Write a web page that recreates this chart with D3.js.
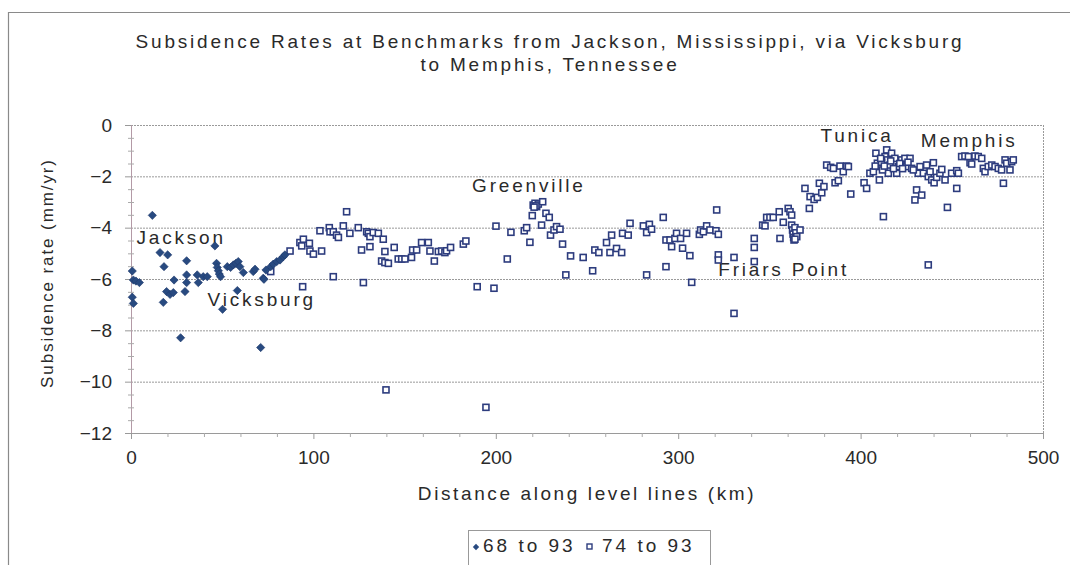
<!DOCTYPE html>
<html><head><meta charset="utf-8">
<script src="https://cdn.jsdelivr.net/npm/d3@7"></script>
<style>html,body{margin:0;padding:0;background:#fff;}svg{display:block;font-family:Arial,"Liberation Sans",sans-serif;}</style>
</head><body><svg id="c" width="1070" height="565"></svg>
<script>
const titleLines = ["Subsidence Rates at Benchmarks from Jackson, Mississippi, via Vicksburg", "to Memphis, Tennessee"];
const xLabel = "Distance along level lines (km)";
const yLabel = "Subsidence rate (mm/yr)";
const xTicks = [0, 100, 200, 300, 400, 500];
const yTicks = [0, -2, -4, -6, -8, -10, -12];
const seriesNames = ["68 to 93", "74 to 93"];
const placeNames = ["Jackson", "Vicksburg", "Greenville", "Friars Point", "Tunica", "Memphis"];
const placeX = [3, 42, 187, 322, 378, 433];
const placeY = [-4.65, -7.05, -2.6, -5.9, -0.65, -0.85];

// series 1: 68 to 93 (km, mm/yr)
const s1x = [0.7,1.3,0.7,1.3,2.7,4.6,11.7,15.9,20.1,18.1,17.7,19.5,21.4,23.2,23.6,27.2,29.6,30.5,30.5,30.5,36.3,36.9,39.6,41.8,46.0,46.9,47.3,47.9,48.4,49.1,50.2,52.8,54.6,56.1,57.5,58.8,59.7,58.3,61.6,67.0,68.0,71.1,72.5,74.0,72.9,76.6,78.0,79.9,81.7,83.5,84.4];
const s1y = [-5.69,-6.04,-6.71,-6.95,-6.08,-6.14,-3.52,-4.97,-5.06,-5.52,-6.91,-6.49,-6.60,-6.53,-6.04,-8.29,-6.49,-5.29,-5.84,-6.14,-5.84,-6.14,-5.91,-5.91,-4.71,-5.39,-5.55,-5.68,-5.81,-5.91,-7.18,-5.52,-5.55,-5.45,-5.39,-5.32,-5.52,-6.45,-5.75,-5.71,-5.62,-8.67,-5.97,-5.65,-6.01,-5.52,-5.42,-5.32,-5.26,-5.13,-5.06];

// series 2: 74 to 93 (km, mm/yr)
const s2x = [76.6,87.2,92.6,93.6,94.5,97.8,98.1,100.0,104.5,103.6,108.7,109.1,110.9,112.7,113.7,116.4,118.2,120.0,124.6,126.4,129.2,130.1,131.0,131.0,132.8,135.6,138.3,139.2,137.4,139.2,141.1,144.3,146.5,148.4,150.2,153.8,154.4,156.6,159.3,163.0,163.9,166.3,168.5,110.9,127.4,94.1,
170.3,172.1,173.0,175.2,182.2,183.6,189.8,199.0,200.1,206.3,208.3,215.6,216.9,218.7,220.0,220.5,221.5,222.4,223.3,225.7,222.0,221.0,227.5,229.3,225.1,230.0,231.9,233.3,235.2,236.6,241.0,238.4,247.9,253.1,254.3,256.5,260.7,263.5,262.6,266.2,
269.0,269.5,272.6,273.6,280.9,282.7,284.2,285.4,282.7,291.8,293.3,293.3,295.5,296.4,298.2,299.1,301.3,302.4,304.6,306.4,307.4,311.6,312.3,313.8,315.6,317.4,320.7,321.1,322.0,322.0,322.0,330.6,330.6,341.7,341.7,341.7,346.3,347.6,348.5,350.3,352.1,355.4,355.8,357.6,360.3,361.3,362.2,362.2,362.7,363.0,363.3,363.5,364.0,364.5,365.0,364.0,366.8,
369.5,371.9,372.3,374.5,376.3,377.4,378.7,379.9,381.4,383.6,385.1,386.0,387.8,388.7,390.5,392.4,393.3,394.6,401.9,403.3,405.1,407.0,408.4,409.2,410.3,410.6,412.5,413.4,414.3,414.7,415.2,416.1,417.0,418.8,419.8,420.7,422.5,424.3,425.2,427.1,428.0,429.8,430.7,431.6,
411.5,412.0,413.0,416.5,418.0,421.5,423.0,426.0,408.0,411.0,
428.9,433.5,432.6,434.4,436.2,437.1,438.1,439.9,439.0,440.3,441.7,443.5,444.5,446.3,447.6,449.9,452.7,453.6,452.7,455.4,457.2,459.1,460.0,460.9,462.7,464.5,466.4,467.3,468.2,470.0,471.9,473.7,475.5,477.3,478.3,479.2,480.1,481.9,482.8,483.7,437.1,
139.8,194.6];
const s2y = [-5.71,-4.91,-4.58,-4.71,-4.45,-4.61,-4.91,-5.03,-4.91,-4.12,-4.00,-4.16,-4.16,-4.29,-4.38,-3.93,-3.38,-4.22,-4.00,-4.87,-4.16,-4.22,-4.35,-4.74,-4.19,-4.22,-4.45,-4.93,-5.30,-5.36,-5.39,-4.77,-5.22,-5.22,-5.22,-5.16,-4.87,-4.87,-4.58,-4.58,-4.91,-5.30,-4.93,-5.91,-6.14,-6.30,
-4.91,-4.97,-4.90,-4.77,-4.64,-4.52,-6.30,-6.36,-3.94,-5.22,-4.18,-4.12,-4.00,-4.57,-3.53,-3.12,-3.05,-3.18,-3.08,-2.99,-3.15,-3.20,-3.44,-3.60,-3.90,-4.29,-4.09,-3.96,-4.06,-4.64,-5.10,-5.84,-5.16,-5.68,-4.87,-4.97,-4.58,-4.29,-4.97,-4.81,
-4.97,-4.22,-4.29,-3.83,-3.93,-4.19,-3.87,-4.06,-5.84,-3.60,-4.48,-5.52,-4.48,-4.74,-4.42,-4.22,-4.42,-4.80,-4.22,-5.09,-6.13,-4.26,-4.09,-4.16,-3.93,-4.09,-4.12,-3.31,-4.26,-5.06,-5.26,-5.16,-7.34,-4.42,-4.77,-5.32,-3.90,-3.93,-3.60,-3.60,-3.60,-3.38,-4.42,-3.79,-3.25,-3.38,-3.51,-3.90,-4.09,-4.25,-4.38,-4.48,-4.00,-4.20,-4.35,-4.45,-4.09,
-2.47,-3.25,-2.79,-2.90,-2.82,-2.27,-2.64,-2.40,-1.56,-1.65,-1.69,-2.25,-2.17,-1.60,-1.82,-1.60,-1.62,-2.69,-2.25,-2.47,-1.88,-1.82,-1.10,-1.49,-2.14,-1.62,-3.57,-1.23,-0.97,-1.36,-1.88,-1.56,-1.10,-1.30,-1.88,-1.62,-1.36,-1.30,-1.62,-1.30,-1.69,-2.92,-2.53,-1.88,
-1.45,-1.75,-1.60,-1.40,-1.70,-1.50,-1.70,-1.45,-1.60,-1.30,
-1.75,-2.73,-1.62,-1.88,-1.56,-2.01,-1.82,-1.47,-2.14,-2.25,-2.04,-1.88,-1.73,-2.14,-3.21,-1.88,-1.78,-1.88,-2.47,-1.23,-1.21,-1.23,-1.47,-1.52,-1.21,-1.23,-1.30,-1.69,-1.82,-1.62,-1.56,-1.62,-1.69,-1.75,-2.27,-1.36,-1.49,-1.75,-1.43,-1.36,-5.45,
-10.32,-11.00];

const svg = d3.select("#c");
const textCol = "#2a2a2a";
const gridCol = "#9a9a9a";
const x = d3.scaleLinear().domain([0, 500]).range([131, 1043]);
const y = d3.scaleLinear().domain([-12, 0]).range([433, 125]);

// outer frame
svg.append("line").attr("x1", 8).attr("x2", 1070).attr("y1", 12.5).attr("y2", 12.5).attr("stroke", "#8a8a8a").attr("stroke-width", 1.2);
svg.append("line").attr("x1", 8.5).attr("x2", 8.5).attr("y1", 12).attr("y2", 565).attr("stroke", "#8a8a8a").attr("stroke-width", 1.2);

// title
svg.append("g").selectAll("text").data(titleLines).join("text")
  .attr("x", 550).attr("y", (d, i) => 48 + i * 23)
  .attr("text-anchor", "middle").attr("font-size", 19).attr("letter-spacing", 2.8).attr("fill", textCol).text(d => d);

// gridlines
svg.append("g").selectAll("line").data(yTicks).join("line")
  .attr("x1", x(0)).attr("x2", x(500)).attr("y1", d => y(d) + 0.5).attr("y2", d => y(d) + 0.5)
  .attr("stroke", gridCol).attr("stroke-dasharray", "2,1");
// right border of plot
svg.append("line").attr("x1", x(500) + 0.5).attr("x2", x(500) + 0.5).attr("y1", y(0)).attr("y2", y(-12))
  .attr("stroke", gridCol).attr("stroke-dasharray", "2,1");

// y axis
const yAxis = d3.axisLeft(y).tickValues(yTicks).tickFormat(d3.format("d")).tickSize(6).tickPadding(13);
const gy = svg.append("g").attr("transform", `translate(${x(0)},0)`).call(yAxis);
gy.select(".domain").attr("stroke", "#b39aa6");
gy.selectAll(".tick line").attr("stroke", "#999");
gy.selectAll("text").attr("font-size", 19).attr("fill", textCol).attr("font-family", "Arial, Liberation Sans, sans-serif");
const yMinor = d3.range(-12, 0.01, 0.5).filter(v => !yTicks.includes(v));
svg.append("g").selectAll("line").data(yMinor).join("line")
  .attr("x1", x(0) - 3).attr("x2", x(0) + 3).attr("y1", d => y(d) + 0.5).attr("y2", d => y(d) + 0.5).attr("stroke", "#aaa");

// x axis
const xAxis = d3.axisBottom(x).tickValues(xTicks).tickFormat(d3.format("d")).tickSize(6).tickPadding(12);
const gx = svg.append("g").attr("transform", `translate(0,${y(-12)})`).call(xAxis);
gx.select(".domain").attr("stroke", gridCol).attr("stroke-dasharray", "2,1");
gx.selectAll(".tick line").attr("stroke", "#999");
gx.selectAll("text").attr("font-size", 19).attr("fill", textCol).attr("font-family", "Arial, Liberation Sans, sans-serif");
const xMinor = d3.range(0, 501, 20).filter(v => !xTicks.includes(v));
svg.append("g").selectAll("line").data(xMinor).join("line")
  .attr("x1", d => x(d) + 0.5).attr("x2", d => x(d) + 0.5).attr("y1", y(-12)).attr("y2", y(-12) + 4).attr("stroke", "#aaa");

// axis titles
svg.append("text").attr("x", 587).attr("y", 500).attr("text-anchor", "middle").attr("font-size", 19).attr("letter-spacing", 2.6).attr("fill", textCol).text(xLabel);
svg.append("text").attr("transform", "translate(53,273) rotate(-90)").attr("text-anchor", "middle").attr("font-size", 17).attr("letter-spacing", 1.9).attr("fill", textCol).text(yLabel);

// place names
svg.append("g").selectAll("text").data(placeNames).join("text")
  .attr("x", (d, i) => x(placeX[i])).attr("y", (d, i) => y(placeY[i]))
  .attr("font-size", 19).attr("letter-spacing", 2.8).attr("fill", textCol).text(d => d);

// series 2 squares
const s2 = s2x.map((v, i) => [v, s2y[i]]);
svg.append("g").selectAll("rect").data(s2).join("rect")
  .attr("x", d => x(d[0]) - 3).attr("y", d => y(d[1]) - 3).attr("width", 6).attr("height", 6)
  .attr("fill", "#fff").attr("stroke", "#2d3c7e").attr("stroke-width", 1.6);
// series 1 diamonds (rotated squares)
const diamond = d3.symbol().type(d3.symbolSquare).size(34);
const s1 = s1x.map((v, i) => [v, s1y[i]]);
svg.append("g").selectAll("path").data(s1).join("path")
  .attr("transform", d => `translate(${x(d[0])},${y(d[1])}) rotate(45)`).attr("d", diamond)
  .attr("fill", "#284a80").attr("stroke", "#203a6e").attr("stroke-width", 0.6);

// legend
svg.append("rect").attr("x", 468.5).attr("y", 530.5).attr("width", 242).attr("height", 50).attr("fill", "#fff").attr("stroke", "#999");
const lg = svg.append("g");
lg.append("path").attr("transform", "translate(476,547) rotate(45)").attr("d", d3.symbol().type(d3.symbolSquare).size(20)).attr("fill", "#284a80");
lg.append("text").attr("x", 483).attr("y", 552).attr("font-size", 19).attr("letter-spacing", 3.0).attr("fill", textCol).text(seriesNames[0]);
lg.append("rect").attr("x", 587).attr("y", 544).attr("width", 5).attr("height", 5).attr("fill", "#fff").attr("stroke", "#2d3c7e").attr("stroke-width", 1.4);
lg.append("text").attr("x", 602).attr("y", 552).attr("font-size", 19).attr("letter-spacing", 3.0).attr("fill", textCol).text(seriesNames[1]);
</script></body></html>
